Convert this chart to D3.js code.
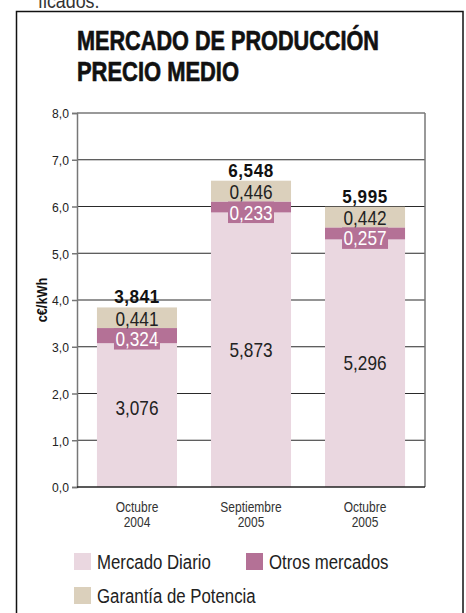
<!DOCTYPE html>
<html><head><meta charset="utf-8">
<script src="https://cdn.jsdelivr.net/npm/d3@7"></script>
<style>
html,body{margin:0;padding:0;background:#fff;}
svg{display:block;}
text{font-family:"Liberation Sans",Arial,sans-serif;}
</style></head>
<body>
<svg id="c" width="466" height="613"></svg>
<script>
const categories = [["Octubre","2004"],["Septiembre","2005"],["Octubre","2005"]];
const seriesNames = ["Mercado Diario","Otros mercados","Garantía de Potencia"];
const mercadoDiario = [3.076, 5.873, 5.296];
const otrosMercados = [0.324, 0.233, 0.257];
const garantiaPotencia = [0.441, 0.446, 0.442];
const totals = [3.841, 6.548, 5.995];
const yTicks = [0,1,2,3,4,5,6,7,8];
const colors = ["#ead7e0","#b47196","#dbd0bc"];

const fmt = v => d3.format(".3f")(v).replace(".", ",");
const fmtT = v => d3.format(".1f")(v).replace(".", ",");

const svg = d3.select("#c");
function ctext(parent, px, py, sx, str){
  return parent.append("text").attr("transform",`translate(${px},${py}) scale(${sx},1)`).text(str);
}

// top cut-off text from previous paragraph
ctext(svg,38,8,0.85,"ficados.").attr("font-size",21).attr("fill","#333");
// frame
svg.append("rect").attr("x",16.5).attr("y",11.5).attr("width",446.5).attr("height",610)
  .attr("fill","none").attr("stroke","#111").attr("stroke-width",1.5);

// title
svg.append("text").attr("x",77).attr("y",50).attr("font-size",28.5).attr("font-weight","bold")
  .attr("fill","#111").attr("stroke","#111").attr("stroke-width",0.7)
  .attr("textLength",302).attr("lengthAdjust","spacingAndGlyphs").text("MERCADO DE PRODUCCIÓN");
svg.append("text").attr("x",77).attr("y",81).attr("font-size",28.5).attr("font-weight","bold")
  .attr("fill","#111").attr("stroke","#111").attr("stroke-width",0.7)
  .attr("textLength",162).attr("lengthAdjust","spacingAndGlyphs").text("PRECIO MEDIO");

const x0 = 77, x1 = 425, yTop = 113, yBot = 487;
const y = d3.scaleLinear().domain([0,8]).range([yBot,yTop]);
const x = d3.scaleBand().domain(d3.range(categories.length)).range([x0,x1]).paddingInner(0.298).paddingOuter(0.175);
const cx = i => x(i)+x.bandwidth()/2;

// gridlines
svg.append("g").selectAll("line").data(yTicks.filter(d=>d>0 && d<8)).join("line")
  .attr("x1",x0).attr("x2",x1).attr("y1",d=>y(d)).attr("y2",d=>y(d))
  .attr("stroke","#2a2a2a").attr("stroke-width",1.2);

// stacked data
const rows = categories.map((c,i)=>({i, "Mercado Diario":mercadoDiario[i],"Otros mercados":otrosMercados[i],"Garantía de Potencia":garantiaPotencia[i]}));
const stack = d3.stack().keys(seriesNames)(rows);
stack.forEach((layer,k)=>{
  svg.append("g").selectAll("rect").data(layer).join("rect")
    .attr("x",d=>x(d.data.i)).attr("width",x.bandwidth())
    .attr("y",d=>y(d[1])).attr("height",d=>y(d[0])-y(d[1]))
    .attr("fill",colors[k]);
});

// axes frame
const axL = d3.axisLeft(y).tickValues(yTicks).tickSize(5).tickPadding(2).tickFormat(fmtT);
const gA = svg.append("g").attr("transform",`translate(${x0},0)`).call(axL);
gA.select(".domain").attr("stroke","#777").attr("stroke-width",1.5);
gA.selectAll(".tick line").attr("stroke","#777").attr("stroke-width",1.5);
gA.selectAll(".tick text").attr("font-size",13.5).attr("fill","#222")
  .attr("transform","scale(0.9,1)").attr("x",-8/0.9).attr("dy","0.36em")
  .style("font-family",'"Liberation Sans",Arial,sans-serif');
svg.append("line").attr("x1",x1).attr("x2",x1).attr("y1",yTop).attr("y2",yBot).attr("stroke","#777").attr("stroke-width",1.5);
svg.append("line").attr("x1",x0).attr("x2",x1).attr("y1",yTop).attr("y2",yTop).attr("stroke","#777").attr("stroke-width",1.5);
svg.append("line").attr("x1",x0).attr("x2",x1).attr("y1",yBot).attr("y2",yBot).attr("stroke","#222").attr("stroke-width",1.5);

// y label
svg.append("text").attr("transform",`translate(47,${(yTop+yBot)/2}) rotate(-90) scale(0.88,1)`)
  .attr("text-anchor","middle").attr("font-size",14.5).attr("font-weight","bold").attr("fill","#111").text("c€/kWh");

// x labels
categories.forEach((c,i)=>{
  ctext(svg,cx(i),511.5,0.8,c[0]).attr("text-anchor","middle").attr("font-size",15).attr("fill","#333");
  ctext(svg,cx(i),527,0.8,c[1]).attr("text-anchor","middle").attr("font-size",15).attr("fill","#333");
});

// labels: mercado diario
stack[0].forEach(d=>{
  const yy = (y(d[0])+y(d[1]))/2 + 7 - (d.data.i===0?7:0);
  ctext(svg,cx(d.data.i),yy,0.82,fmt(d[1]-d[0])).attr("text-anchor","middle").attr("font-size",21).attr("fill","#222");
});
// otros label boxes + labels
stack[1].forEach(d=>{
  svg.append("rect").attr("x",cx(d.data.i)-23).attr("width",46).attr("y",y(d[1])).attr("height",21.5).attr("fill",colors[1]);
  ctext(svg,cx(d.data.i),y(d[1])+18,0.82,fmt(d[1]-d[0])).attr("text-anchor","middle").attr("font-size",21).attr("fill","#fff");
});
// garantia labels
stack[2].forEach(d=>{
  ctext(svg,cx(d.data.i),(y(d[0])+y(d[1]))/2+8,0.82,fmt(d[1]-d[0])).attr("text-anchor","middle").attr("font-size",21).attr("fill","#222");
});
// totals
totals.forEach((t,i)=>{
  ctext(svg,cx(i),y(t)-4,0.95,fmt(t)).attr("text-anchor","middle").attr("font-size",18).attr("font-weight","bold")
    .attr("letter-spacing",0.6).attr("fill","#111");
});

// legend
const legend = [{k:0,x:74,y:553},{k:1,x:246,y:553},{k:2,x:74,y:587}];
legend.forEach(d=>{
  svg.append("rect").attr("x",d.x).attr("y",d.y).attr("width",17).attr("height",17).attr("fill",colors[d.k]);
  ctext(svg,d.x+23,d.y+16,0.8,seriesNames[d.k]).attr("font-size",21).attr("fill","#222");
});
</script>
</body></html>
